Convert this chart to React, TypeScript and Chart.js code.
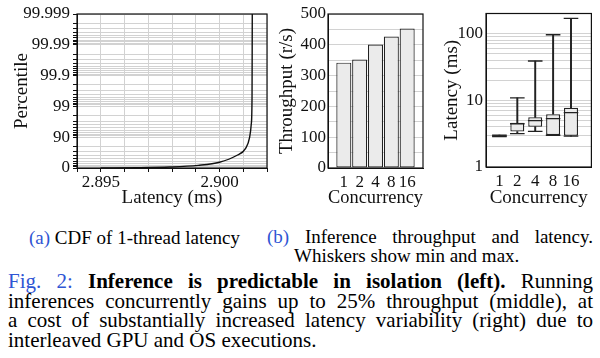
import React, { useEffect, useRef } from 'react';
import { Chart, registerables } from 'chart.js';

Chart.register(...registerables);

// ---------- data ----------
// (a) CDF of 1-thread latency
const cdfLatency = [2.895, 2.8965, 2.8979, 2.8991, 2.9, 2.9007, 2.9011, 2.90127, 2.90134, 2.90137, 2.90138];
const cdfPercentile = [0.3, 2, 7, 18, 35, 60, 77, 90, 96.4, 99.5, 99.999];
const percentileTicks = ['0', '90', '99', '99.9', '99.99', '99.999'];
const minorMultipliers = [2, 3, 4, 5, 6, 7, 8, 9];
const latencyGrid = [2.894, 2.895, 2.896, 2.897, 2.898, 2.899, 2.9, 2.901, 2.902];
const latencyLabels = ['2.895', '2.900'];

// (b) throughput
const concurrency = ['1', '2', '4', '8', '16'];
const throughput = [342, 352, 401, 427, 453];
const throughputGrid = [0, 50, 100, 150, 200, 250, 300, 350, 400, 450, 500];
const throughputLabels = [0, 100, 200, 300, 400, 500];

// (b) latency box plot (ms)
const latMin = [2.86, 3.16, 3.43, 2.99, 2.9];
const latQ1 = [2.88, 3.41, 4.02, 3.02, 2.93];
const latMedian = [2.93, 4.45, 4.95, 5.3, 6.52];
const latQ3 = [2.97, 4.62, 5.56, 6.17, 7.75];
const latMax = [3.0, 10.9, 38.8, 96, 169];
const latLabels = [1, 10, 100];
const latDecades = [1, 10, 100];
const latMultipliers = [1, 2, 3, 4, 5, 6, 7, 8, 9];

// ---------- styles ----------
const SERIF = "'Liberation Serif', 'Times New Roman', serif";
const tickFont = { family: SERIF, size: 17, lineHeight: 1 };
const titleFont = { family: SERIF, size: 19, lineHeight: 1 };
const GRID = '#d2d2d2';
const INK = '#111';
const BLUE = '#2f55d4';

const framePlugin = {
  id: 'frame',
  afterDatasetsDraw(chart: any) {
    const { ctx, chartArea } = chart;
    const { left, top, right, bottom } = chartArea;
    ctx.save();
    ctx.strokeStyle = INK;
    ctx.lineWidth = 1.2;
    ctx.strokeRect(left, top, right - left, bottom - top);
    ctx.restore();
  },
};

const near = (a: number, b: number) => Math.abs(a - b) < 1e-7;

function nineGrid(): number[] {
  const out: number[] = [];
  for (let d = 0; d < percentileTicks.length - 1; d++) {
    out.push(d);
    minorMultipliers.forEach((k) => out.push(d + 1 - Math.log10(k)));
  }
  out.push(percentileTicks.length - 1);
  return out;
}

function cdfConfig(): any {
  return {
    type: 'line',
    data: {
      datasets: [
        {
          data: cdfLatency.map((x, i) => ({ x, y: -Math.log10(1 - cdfPercentile[i] / 100) })),
          borderColor: INK,
          borderWidth: 1.4,
          pointRadius: 0,
          cubicInterpolationMode: 'monotone',
          fill: false,
        },
      ],
    },
    options: {
      responsive: false,
      animation: false,
      devicePixelRatio: 1,
      layout: { padding: { left: 0, top: 14, right: 5, bottom: 0 } },
      plugins: { legend: { display: false }, tooltip: { enabled: false } },
      scales: {
        x: {
          type: 'linear',
          min: latencyGrid[0],
          max: latencyGrid[latencyGrid.length - 1],
          afterBuildTicks: (s: any) => {
            s.ticks = latencyGrid.map((v) => ({ value: v }));
          },
          afterFit: (s: any) => {
            s.height = 47;
          },
          ticks: {
            autoSkip: false,
            maxRotation: 0,
            padding: 2,
            font: tickFont,
            color: INK,
            callback: (v: number) => latencyLabels.find((l) => near(parseFloat(l), v)) ?? '',
          },
          grid: { color: GRID, tickColor: INK, tickLength: 4 },
          border: { color: INK },
          title: { display: true, text: 'Latency (ms)', font: titleFont, color: INK, padding: { top: 0, bottom: 7 } },
        },
        y: {
          type: 'linear',
          min: 0,
          max: percentileTicks.length - 1,
          afterBuildTicks: (s: any) => {
            s.ticks = nineGrid().map((v) => ({ value: v }));
          },
          afterFit: (s: any) => {
            s.width = 77;
          },
          ticks: {
            autoSkip: false,
            padding: 3,
            font: tickFont,
            color: INK,
            callback: (v: number) => {
              const i = Math.round(v);
              return near(v, i) ? percentileTicks[i] : '';
            },
          },
          grid: { color: GRID, tickColor: INK, tickLength: 4 },
          border: { color: INK },
          title: { display: true, text: 'Percentile', font: titleFont, color: INK, padding: { top: 12.5, bottom: 0 } },
        },
      },
    },
    plugins: [framePlugin],
  };
}

function throughputConfig(): any {
  return {
    type: 'bar',
    data: {
      datasets: [
        {
          data: throughput.map((y, i) => ({ x: i, y })),
          backgroundColor: '#ebebeb',
          borderColor: '#222',
          borderWidth: 1.2,
          borderSkipped: false,
          categoryPercentage: 1,
          barPercentage: 0.95,
          grouped: false,
        },
      ],
    },
    options: {
      responsive: false,
      animation: false,
      devicePixelRatio: 1,
      layout: { padding: { left: 0, top: 14, right: 7, bottom: 0 } },
      plugins: { legend: { display: false }, tooltip: { enabled: false } },
      scales: {
        x: {
          type: 'linear',
          offset: false,
          min: -1,
          max: concurrency.length,
          afterBuildTicks: (s: any) => {
            s.ticks = concurrency.map((_, i) => ({ value: i }));
          },
          afterFit: (s: any) => {
            s.height = 47;
          },
          ticks: {
            autoSkip: false,
            maxRotation: 0,
            padding: 2,
            font: tickFont,
            color: INK,
            callback: (v: number) => concurrency[Math.round(v)] ?? '',
          },
          grid: { display: false, offset: false, tickLength: 4 },
          border: { color: INK },
          title: { display: true, text: 'Concurrency', font: titleFont, color: INK, padding: { top: 0, bottom: 7 } },
        },
        y: {
          type: 'linear',
          min: 0,
          max: 500,
          afterBuildTicks: (s: any) => {
            s.ticks = throughputGrid.map((v) => ({ value: v }));
          },
          afterFit: (s: any) => {
            s.width = 56;
          },
          ticks: {
            autoSkip: false,
            padding: 2,
            font: tickFont,
            color: INK,
            callback: (v: number) => (throughputLabels.includes(v) ? String(v) : ''),
          },
          grid: { color: GRID, drawTicks: false },
          border: { color: INK },
          title: { display: true, text: 'Throughput (r/s)', font: titleFont, color: INK, padding: { top: 5.5, bottom: 0 } },
        },
      },
    },
    plugins: [framePlugin],
  };
}

function boxConfig(): any {
  const boxPct = 0.78;
  const common = { grouped: false, categoryPercentage: 1 };
  const capRadius = 7.3;
  return {
    type: 'bar',
    data: {
      datasets: [
        {
          ...common,
          order: 1,
          data: concurrency.map((_, i) => ({ x: i, y: [latQ1[i], latQ3[i]] })),
          backgroundColor: '#ebebeb',
          borderColor: '#222',
          borderWidth: 1.3,
          borderSkipped: false,
          barPercentage: boxPct,
        },
        {
          ...common,
          order: 2,
          data: concurrency.map((_, i) => ({ x: i, y: [latQ3[i], latMax[i]] })),
          backgroundColor: '#222',
          borderWidth: 0,
          barThickness: 1.3,
        },
        {
          ...common,
          order: 2,
          data: concurrency.map((_, i) => ({ x: i, y: [latMin[i], latQ1[i]] })),
          backgroundColor: '#222',
          borderWidth: 0,
          barThickness: 1.3,
        },
        {
          type: 'line',
          order: 0,
          showLine: false,
          data: [
            ...concurrency.map((_, i) => ({ x: i, y: latMax[i] })),
            ...concurrency.map((_, i) => ({ x: i, y: latMin[i] })),
          ],
          pointStyle: 'line',
          pointRadius: capRadius,
          pointBorderWidth: 1.3,
          borderColor: '#222',
          backgroundColor: '#222',
        },
        {
          type: 'line',
          order: 0,
          showLine: false,
          data: concurrency.map((_, i) => ({ x: i, y: latMedian[i] })),
          pointStyle: 'line',
          pointRadius: capRadius,
          pointBorderWidth: 1.3,
          borderColor: '#222',
          backgroundColor: '#222',
        },
      ],
    },
    options: {
      responsive: false,
      animation: false,
      devicePixelRatio: 1,
      layout: { padding: { left: 0, top: 13.5, right: 4, bottom: 0 } },
      plugins: { legend: { display: false }, tooltip: { enabled: false } },
      scales: {
        x: {
          type: 'linear',
          offset: false,
          min: -0.75,
          max: 5.14,
          afterBuildTicks: (s: any) => {
            s.ticks = concurrency.map((_, i) => ({ value: i }));
          },
          afterFit: (s: any) => {
            s.height = 48;
          },
          ticks: {
            autoSkip: false,
            maxRotation: 0,
            padding: 2,
            font: tickFont,
            color: INK,
            callback: (v: number) => concurrency[Math.round(v)] ?? '',
          },
          grid: { display: false, offset: false, tickLength: 4 },
          border: { color: INK },
          title: { display: true, text: 'Concurrency', font: titleFont, color: INK, padding: { top: 0, bottom: 7 } },
        },
        y: {
          type: 'logarithmic',
          min: 1,
          max: 200,
          afterBuildTicks: (s: any) => {
            const vals: number[] = [];
            latDecades.forEach((d) => latMultipliers.forEach((m) => vals.push(d * m)));
            s.ticks = vals.filter((v) => v <= 200).map((v) => ({ value: v }));
          },
          afterFit: (s: any) => {
            s.width = 56;
          },
          ticks: {
            autoSkip: false,
            padding: 3,
            font: tickFont,
            color: INK,
            callback: (v: number) => (latLabels.some((l) => near(l, v)) ? String(v) : ''),
          },
          grid: { color: GRID, drawTicks: false },
          border: { color: INK },
          title: { display: true, text: 'Latency (ms)', font: titleFont, color: INK, padding: { top: 12.5, bottom: 0 } },
        },
      },
    },
    plugins: [framePlugin],
  };
}

function ChartCanvas({ make, left, top, width, height }: any) {
  const ref = useRef<HTMLCanvasElement>(null);
  useEffect(() => {
    const chart = new Chart(ref.current as HTMLCanvasElement, make());
    return () => chart.destroy();
  }, []);
  return (
    <canvas
      ref={ref}
      width={width}
      height={height}
      style={{ position: 'absolute', left, top, width, height, display: 'block' }}
    />
  );
}

const capStyle: React.CSSProperties = {
  position: 'absolute',
  fontFamily: SERIF,
  fontSize: 19,
  lineHeight: '19px',
  color: '#000',
  whiteSpace: 'nowrap',
};

const bodyStyle: React.CSSProperties = {
  position: 'absolute',
  left: 8,
  width: 585,
  fontFamily: SERIF,
  fontSize: 21,
  lineHeight: '20px',
  color: '#000',
  whiteSpace: 'nowrap',
  textAlign: 'justify',
  textAlignLast: 'justify' as any,
};

export default function App() {
  return (
    <div
      style={{
        position: 'fixed',
        left: 0,
        top: 0,
        width: 600,
        height: 358,
        background: '#fff',
        overflow: 'hidden',
      }}
    >
      <ChartCanvas make={cdfConfig} left={0} top={0} width={272} height={215} />
      <ChartCanvas make={throughputConfig} left={272} top={0} width={158} height={215} />
      <ChartCanvas make={boxConfig} left={430} top={0} width={170} height={215} />

      <div style={{ ...capStyle, left: 29, top: 228.4 }}>
        <span style={{ color: BLUE }}>(a)</span> CDF of 1-thread latency
      </div>
      <div
        style={{
          ...capStyle,
          left: 267,
          top: 227.4,
          width: 326,
          textAlign: 'justify',
          textAlignLast: 'justify' as any,
        }}
      >
        <span style={{ color: BLUE }}>(b)</span> Inference throughput and latency.
      </div>
      <div style={{ ...capStyle, left: 294, top: 246.4 }}>Whiskers show min and max.</div>

      <div style={{ ...bodyStyle, top: 271.2 }}>
        <span style={{ color: BLUE }}>Fig. 2:</span> <b>Inference is predictable in isolation (left).</b> Running
      </div>
      <div style={{ ...bodyStyle, top: 290.7 }}>
        inferences concurrently gains up to 25% throughput (middle), at
      </div>
      <div style={{ ...bodyStyle, top: 310.2 }}>
        a cost of substantially increased latency variability (right) due to
      </div>
      <div style={{ ...bodyStyle, top: 329.7, textAlignLast: 'left' as any }}>
        interleaved GPU and OS executions.
      </div>
    </div>
  );
}
